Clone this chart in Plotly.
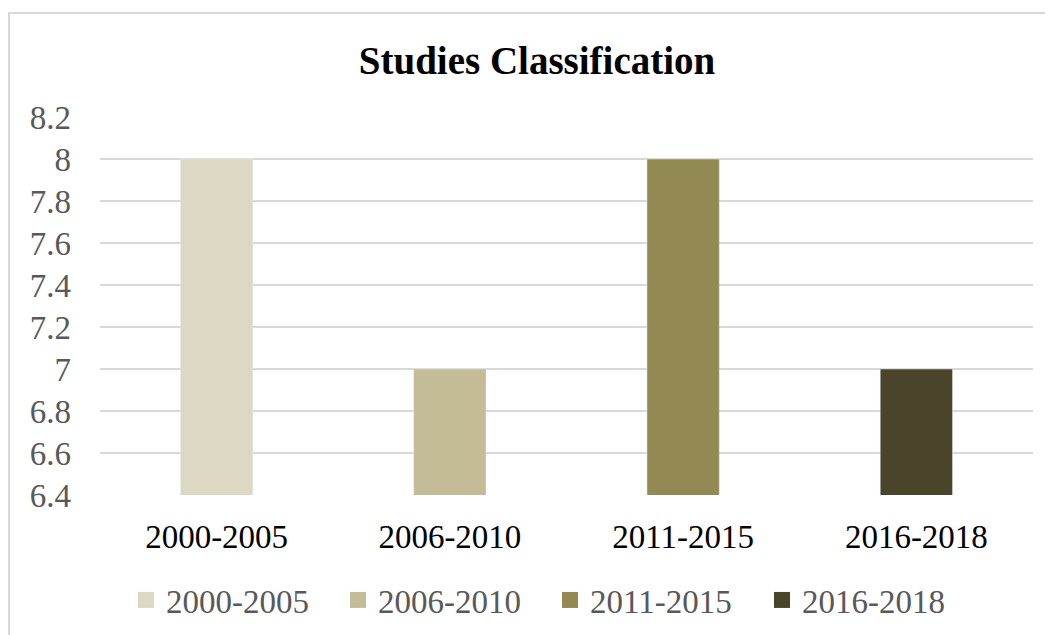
import plotly.graph_objects as go

categories = ["2000-2005", "2006-2010", "2011-2015", "2016-2018"]
values = [8, 7, 8, 7]
colors = ["#DDD8C4", "#C4BC96", "#938953", "#4A452A"]
tick_vals = [6.4, 6.6, 6.8, 7.0, 7.2, 7.4, 7.6, 7.8, 8.0, 8.2]
tick_text = ["6.4", "6.6", "6.8", "7", "7.2", "7.4", "7.6", "7.8", "8", "8.2"]

FONT = "Liberation Serif, Times New Roman, serif"

fig = go.Figure()
for cat, val, col in zip(categories, values, colors):
    fig.add_trace(go.Bar(x=[cat], y=[val], name=cat, marker_color=col,
                         width=0.31, showlegend=False))
for cat, col in zip(categories, colors):
    fig.add_trace(go.Scatter(x=[None], y=[None], mode="markers", name=cat,
                             marker=dict(symbol="square", size=18, color=col)))

OFF = 8  # page body margin
W, H = 1053 - OFF, 635 - OFF
L, R, T, B = 100 - OFF, 20, 117 - OFF, 140
pw, ph = W - L - R, H - T - B

def px_x(x):
    return (x - OFF - L) / pw

def px_y(y):
    return (H - B - (y - OFF)) / ph

fig.update_layout(
    width=W, height=H,
    margin=dict(l=L, r=R, t=T, b=B),
    paper_bgcolor="white", plot_bgcolor="white",
    barmode="overlay",
    font=dict(family=FONT, size=33, color="#595959"),
    title=dict(text="<b>Studies Classification</b>", x=(537 - OFF) / W, xanchor="center",
               y=1 - (60 - OFF) / H, yanchor="middle",
               font=dict(family=FONT, size=39, color="black")),
    xaxis=dict(type="category", categoryorder="array", categoryarray=categories,
               showgrid=False, showline=False, ticks="",
               tickfont=dict(family=FONT, size=33, color="black"),
               ticklabelstandoff=19, automargin=False),
    yaxis=dict(range=[6.4, 8.2], tickvals=tick_vals, ticktext=tick_text,
               showgrid=True, gridcolor="#D9D9D9", gridwidth=2,
               zeroline=False, showline=False, ticks="",
               tickfont=dict(family=FONT, size=33, color="#595959"),
               ticklabelstandoff=28, automargin=False),
    legend=dict(orientation="h", xref="container", yref="container",
                x=(126 - OFF) / W, xanchor="left",
                y=1 - (600 - OFF) / H, yanchor="middle",
                font=dict(family=FONT, size=33, color="#595959"),
                entrywidth=167, entrywidthmode="pixels",
                bgcolor="rgba(0,0,0,0)"),
    shapes=[dict(type="rect", xref="paper", yref="paper",
                 x0=px_x(9), x1=px_x(1058), y0=px_y(13), y1=px_y(660),
                 line=dict(color="#D9D9D9", width=2), fillcolor="rgba(0,0,0,0)",
                 layer="below")],
)

fig.write_html("out.html")
